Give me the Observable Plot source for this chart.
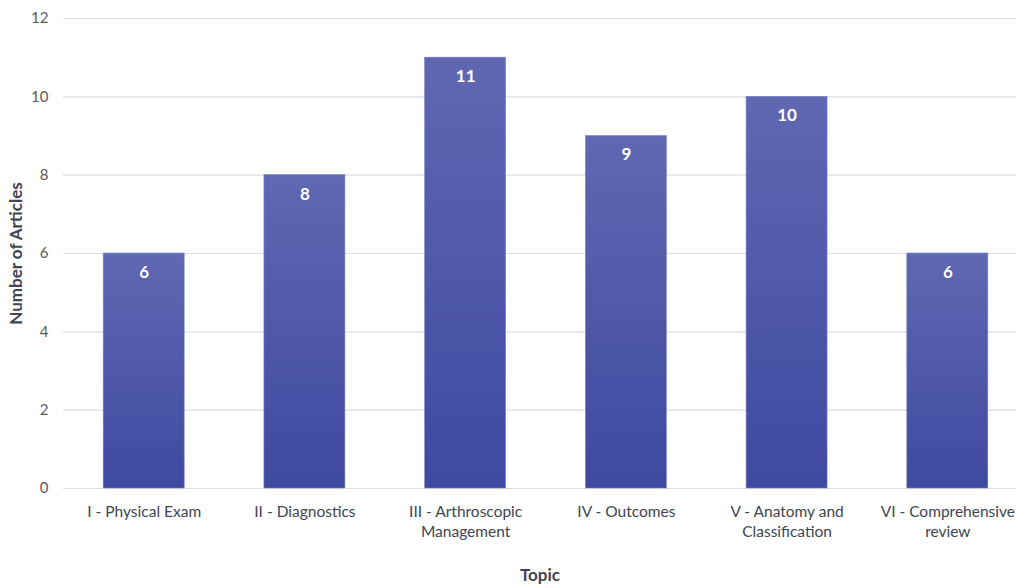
<!DOCTYPE html>
<html>
<head>
<meta charset="utf-8">
<script src="https://cdn.jsdelivr.net/npm/d3@7"></script>
<script src="https://cdn.jsdelivr.net/npm/@observablehq/plot@0.6"></script>
<style>
  html, body { margin: 0; padding: 0; background: #ffffff; }
  #chart svg { display: block; }
</style>
</head>
<body>
<div id="chart"></div>
<script>
const topics = [
  "I - Physical Exam",
  "II - Diagnostics",
  "III - Arthroscopic Management",
  "IV - Outcomes",
  "V - Anatomy and Classification",
  "VI - Comprehensive review"
];
const tickLabels = [
  "I - Physical Exam",
  "II - Diagnostics",
  "III - Arthroscopic\nManagement",
  "IV - Outcomes",
  "V - Anatomy and\nClassification",
  "VI - Comprehensive\nreview"
];
const articles = [6, 8, 11, 9, 10, 6];
const yTicks = [0, 2, 4, 6, 8, 10, 12];

const data = topics.map((t, i) => ({topic: t, count: articles[i]}));
const labelOf = new Map(topics.map((t, i) => [t, tickLabels[i]]));

const font = "Lato, 'Open Sans', sans-serif";

const chart = Plot.plot({
  width: 1016,
  height: 585,
  marginTop: 18,
  marginBottom: 97,
  marginLeft: 63,
  marginRight: 0,
  style: {fontFamily: font, background: "#ffffff"},
  x: {
    domain: topics,
    range: [63, 1028],
    round: false,
    paddingInner: 0.496,
    paddingOuter: 0.25,
    label: null
  },
  y: {
    domain: [0, 12],
    ticks: yTicks,
    label: null
  },
  marks: [
    Plot.ruleY(yTicks, {stroke: "#dcdce8", strokeWidth: 1.2}),
    Plot.barY(data, {x: "topic", y: "count", fill: "url(#barGrad)", stroke: "#7d84c4", strokeWidth: 0.6}),
    Plot.text(data, {x: "topic", y: "count", text: d => String(d.count), dy: 19, fill: "#ffffff", fontWeight: "bold", fontSize: 17}),
    Plot.axisY({
      ticks: yTicks,
      tickSize: 0,
      tickPadding: 15,
      fontSize: 15,
      color: "#595959",
      label: "Number of Articles",
      labelAnchor: "center",
      labelArrow: "none",
      labelOffset: 54
    }),
    Plot.axisX({
      tickSize: 0,
      tickPadding: 14,
      fontSize: 15.5,
      color: "#404552",
      tickFormat: d => labelOf.get(d),
      lineHeight: 1.3,
      label: "Topic",
      labelAnchor: "center",
      labelArrow: "none",
      labelOffset: 92
    })
  ]
});

const svg = d3.select(chart);
const defs = svg.insert("defs", ":first-child");
const grad = defs.append("linearGradient")
  .attr("id", "barGrad")
  .attr("x1", 0).attr("y1", 0).attr("x2", 0).attr("y2", 1);
grad.append("stop").attr("offset", "0%").attr("stop-color", "#6068b3");
grad.append("stop").attr("offset", "100%").attr("stop-color", "#3e49a0");

svg.selectAll("g[aria-label='y-axis label'] text, g[aria-label='x-axis label'] text")
  .attr("font-weight", "bold").attr("font-size", 17).attr("fill", "#404552");

document.getElementById("chart").appendChild(chart);
</script>
</body>
</html>
